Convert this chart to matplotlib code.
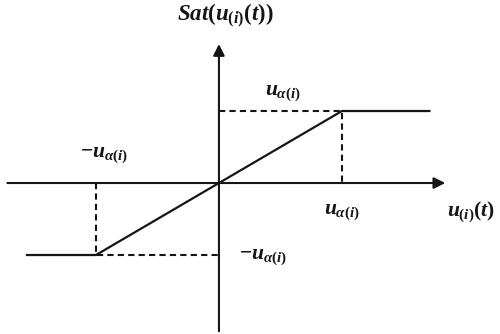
import matplotlib
matplotlib.use("Agg")
import matplotlib.pyplot as plt

# Saturation function: flat at -u_alpha, linear in between, flat at +u_alpha
sat_x = [-1.57, -1.0, 1.0, 1.72]
sat_y = [-1.0, -1.0, 1.0, 1.0]

# Guide (dashed) lines to the corners
guide_upper_x = [0.0, 1.0, 1.0]
guide_upper_y = [1.0, 1.0, 0.0]
guide_lower_x = [-1.0, -1.0, 0.0]
guide_lower_y = [0.0, -1.0, -1.0]

# Axis extents
x_axis = (-1.72, 1.84)
y_axis = (-2.06, 1.93)

plt.rcParams["mathtext.fontset"] = "custom"
plt.rcParams["mathtext.rm"] = "Liberation Serif:bold"
plt.rcParams["mathtext.it"] = "Liberation Serif:italic:bold"
plt.rcParams["font.family"] = ["Liberation Serif", "DejaVu Serif"]

ink = "#151515"

fig = plt.figure(figsize=(5.0, 3.34), dpi=100)
ax = fig.add_axes([0, 0, 1, 1])
ax.set_xlim(-1.78, 2.285)
ax.set_ylim(-2.097, 2.542)
ax.axis("off")

# axes with arrow heads
arrow = dict(arrowstyle="-|>", color=ink, lw=1.5, mutation_scale=17,
             shrinkA=0, shrinkB=0)
ax.annotate("", xy=(x_axis[1], 0), xytext=(x_axis[0], 0), arrowprops=arrow)
ax.annotate("", xy=(0, y_axis[1]), xytext=(0, y_axis[0]), arrowprops=arrow)

ax.plot(sat_x, sat_y, color=ink, lw=1.6, solid_capstyle="butt")
ax.plot(guide_upper_x, guide_upper_y, color=ink, lw=1.5, ls=(0, (3, 2)))
ax.plot(guide_lower_x, guide_lower_y, color=ink, lw=1.5, ls=(0, (3, 2)))

fs = 15.5
ax.text(0.05, 2.32, r"$Sat(u_{(i)}(t))$", fontsize=16.5, ha="center", va="center", color=ink)
ax.text(0.52, 1.25, r"$u_{\alpha(i)}$", fontsize=fs, ha="center", va="center", color=ink)
ax.text(-0.93, 0.39, r"$-u_{\alpha(i)}$", fontsize=fs, ha="center", va="center", color=ink)
ax.text(1.0, -0.40, r"$u_{\alpha(i)}$", fontsize=fs, ha="center", va="center", color=ink)
ax.text(2.05, -0.40, r"$u_{(i)}(t)$", fontsize=fs, ha="center", va="center", color=ink)
ax.text(0.36, -1.03, r"$-u_{\alpha(i)}$", fontsize=fs, ha="center", va="center", color=ink)

fig.savefig("out.png", dpi=100)
